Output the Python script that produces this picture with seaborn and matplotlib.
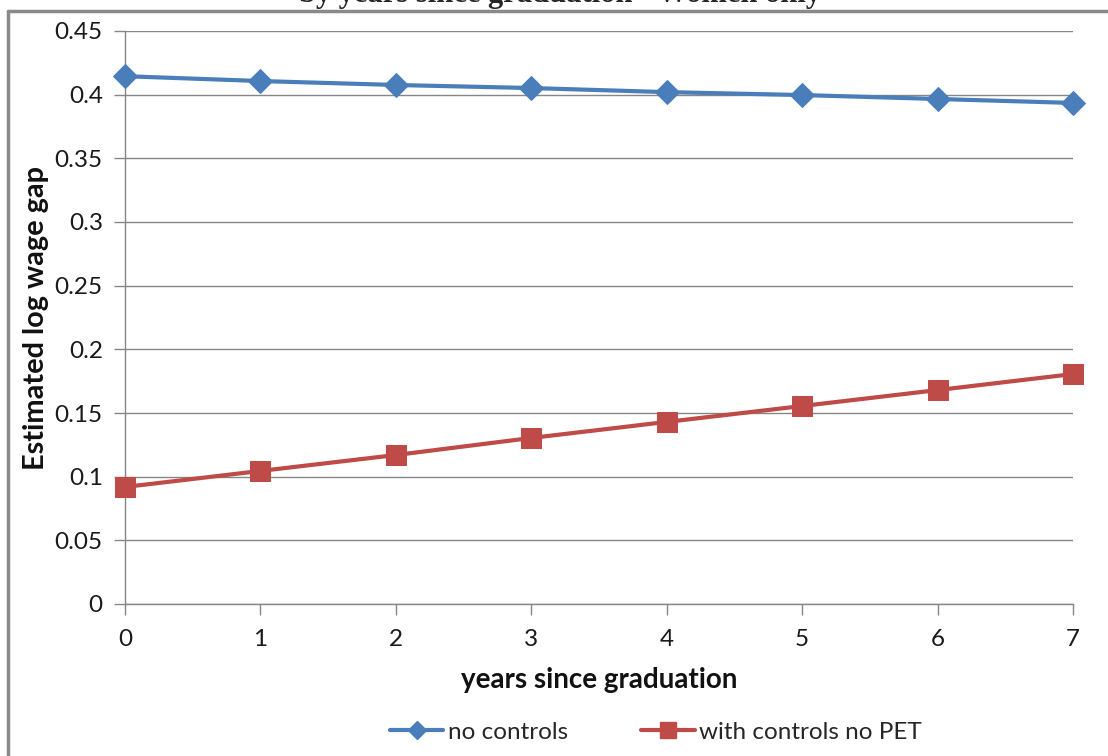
import matplotlib
matplotlib.use("Agg")
import matplotlib.pyplot as plt
import matplotlib.lines as mlines
import pandas as pd
import seaborn as sns

years = [0, 1, 2, 3, 4, 5, 6, 7]
no_controls = [0.4145, 0.4107, 0.4076, 0.4052, 0.4020, 0.3997, 0.3966, 0.3935]
with_controls_no_pet = [0.0919, 0.1045, 0.1170, 0.1304, 0.1430, 0.1555, 0.1680, 0.1806]
y_ticks = [0, 0.05, 0.1, 0.15, 0.2, 0.25, 0.3, 0.35, 0.4, 0.45]
y_tick_labels = ["0", "0.05", "0.1", "0.15", "0.2", "0.25", "0.3", "0.35", "0.4", "0.45"]
series_names = ["no controls", "with controls no PET"]

sns.set_theme(style="white")
plt.rcParams["font.family"] = ["Lato", "DejaVu Sans"]

BLUE = "#4A7EBB"
RED = "#BE4B48"
GRID = "#868686"

fig = plt.figure(figsize=(11.08, 7.56), dpi=100)
ax = fig.add_axes([125 / 1108, 1 - 604 / 756, (1073 - 125) / 1108, (604 - 31) / 756])

df_blue = pd.DataFrame({"year": years, "gap": no_controls})
df_red = pd.DataFrame({"year": years, "gap": with_controls_no_pet})

sns.lineplot(data=df_blue, x="year", y="gap", ax=ax, color=BLUE, linewidth=3.0,
             marker="D", markersize=12.5, markeredgecolor=BLUE, zorder=5, clip_on=False)
sns.lineplot(data=df_red, x="year", y="gap", ax=ax, color=RED, linewidth=3.0,
             marker="s", markersize=14, markeredgecolor=RED, zorder=5, clip_on=False)

ax.set_xlim(0, 7)
ax.set_ylim(0, 0.45)
ax.set_xticks(years)
ax.set_xticklabels([str(y) for y in years])
ax.set_yticks(y_ticks)
ax.set_yticklabels(y_tick_labels)

ax.yaxis.grid(True, color=GRID, linewidth=1.0)
ax.xaxis.grid(False)
for side in ["top", "right"]:
    ax.spines[side].set_visible(False)
for side in ["left", "bottom"]:
    ax.spines[side].set_color(GRID)
    ax.spines[side].set_linewidth(1.0)

ax.tick_params(axis="both", which="major", length=8, width=1.0, color=GRID,
               labelsize=17.5, labelcolor="#1a1a1a", direction="out")
ax.tick_params(axis="x", pad=10, bottom=True)
ax.tick_params(axis="y", pad=8, left=True)

ax.set_xlabel("years since graduation", fontsize=20, fontweight="bold", color="#111111")
ax.set_ylabel("Estimated log wage gap", fontsize=20.8, fontweight="bold", color="#111111")
ax.xaxis.set_label_coords(0.5, (604 - 667) / 573)
ax.yaxis.set_label_coords((49 - 125) / 948, 0.5)

handles = [
    mlines.Line2D([], [], color=BLUE, linewidth=3.0, marker="D", markersize=9, markeredgecolor=BLUE),
    mlines.Line2D([], [], color=RED, linewidth=3.0, marker="s", markersize=12, markeredgecolor=RED),
]
fig.legend(handles, series_names, loc="center", bbox_to_anchor=(656 / 1108, 1 - 732 / 756),
           ncol=2, frameon=False, fontsize=17.5, handlelength=2.2, handletextpad=0.2,
           columnspacing=3.0, borderpad=0.0)

# chart frame and the clipped title line above it
fig.add_artist(mlines.Line2D([8 / 1108, 1], [1 - 11 / 756, 1 - 11 / 756],
                             transform=fig.transFigure, color="#8a8a8a", linewidth=2.5))
fig.add_artist(mlines.Line2D([8 / 1108, 8 / 1108], [0, 1 - 11 / 756],
                             transform=fig.transFigure, color="#8a8a8a", linewidth=2.5))
fig.text(560 / 1108, 1 - 2 / 756, "by years since graduation - Women only", ha="center", va="baseline",
         fontsize=22, fontweight="bold", family=["Liberation Serif", "DejaVu Serif"])

fig.savefig("out.png", dpi=100, facecolor="white")
